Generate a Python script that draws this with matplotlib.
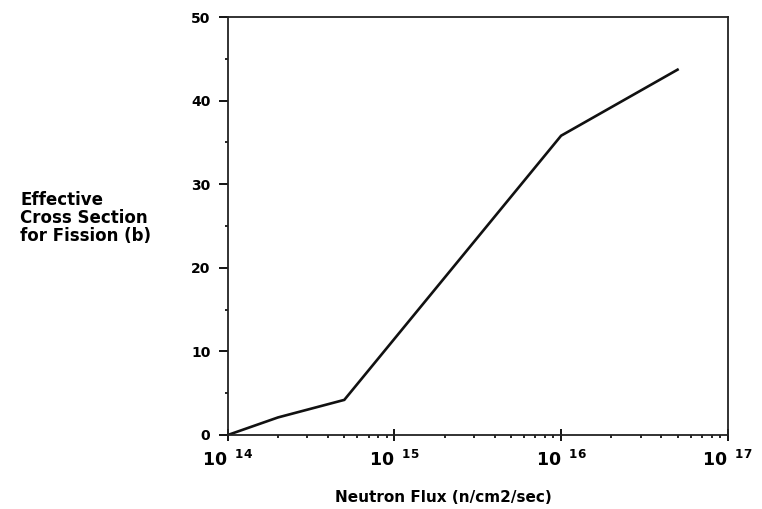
import numpy as np
from matplotlib import pyplot as plt
from matplotlib.ticker import FixedLocator, FuncFormatter, LogLocator, MultipleLocator

# neutron flux (n/cm2/sec) and effective fission cross section (b)
flux = [1e14, 2e14, 5e14, 1e16, 5e16]
cross_section = [0.0, 2.1, 4.2, 35.8, 43.7]

x_decades = [14, 15, 16, 17]
y_ticks = [0, 10, 20, 30, 40, 50]

plt.rcParams['font.family'] = ['DejaVu Sans']
plt.rcParams['font.weight'] = 'bold'
plt.rcParams['mathtext.fontset'] = 'custom'
plt.rcParams['mathtext.rm'] = 'DejaVu Sans:bold'
plt.rcParams['mathtext.bf'] = 'DejaVu Sans:bold'
plt.rcParams['mathtext.default'] = 'rm'

fig = plt.figure(figsize=(7.62, 5.09), dpi=100)
ax = fig.add_axes([0.299, 0.1454, 0.656, 0.8212])

ax.plot(flux, cross_section, color='#111111', lw=1.9, solid_joinstyle='miter')

ax.set_xscale('log')
ax.set_xlim(10.0 ** x_decades[0], 10.0 ** x_decades[-1])
ax.set_ylim(y_ticks[0], y_ticks[-1])

ax.xaxis.set_major_locator(FixedLocator([10.0 ** e for e in x_decades]))
ax.xaxis.set_major_formatter(FuncFormatter(
    lambda v, pos: r'10$^{\ \ %d}$' % round(np.log10(v))))
ax.xaxis.set_minor_locator(LogLocator(base=10, subs=np.arange(2, 10)))
ax.yaxis.set_major_locator(FixedLocator(y_ticks))
ax.yaxis.set_minor_locator(MultipleLocator(5))

for s in ax.spines.values():
    s.set_linewidth(1.3)
    s.set_color('#222222')

ax.tick_params(axis='y', which='major', length=6.5, width=1.3, labelsize=10, pad=6)
ax.tick_params(axis='x', which='major', direction='inout', length=8, width=1.3,
               labelsize=12.5, pad=7)
ax.tick_params(axis='both', which='minor', length=2.5, width=1.2)
for lab in ax.get_xticklabels() + ax.get_yticklabels():
    lab.set_fontweight('bold')

fig.text(335 / 762, 1 - 502 / 509, 'Neutron Flux (n/cm2/sec)', fontsize=11,
         fontweight='bold', ha='left', va='baseline')
fig.text(20 / 762, 1 - 191 / 509, 'Effective\nCross Section\nfor Fission (b)', fontsize=12,
         fontweight='bold', ha='left', va='top', linespacing=1.0)

fig.savefig('out.png', dpi=100)
